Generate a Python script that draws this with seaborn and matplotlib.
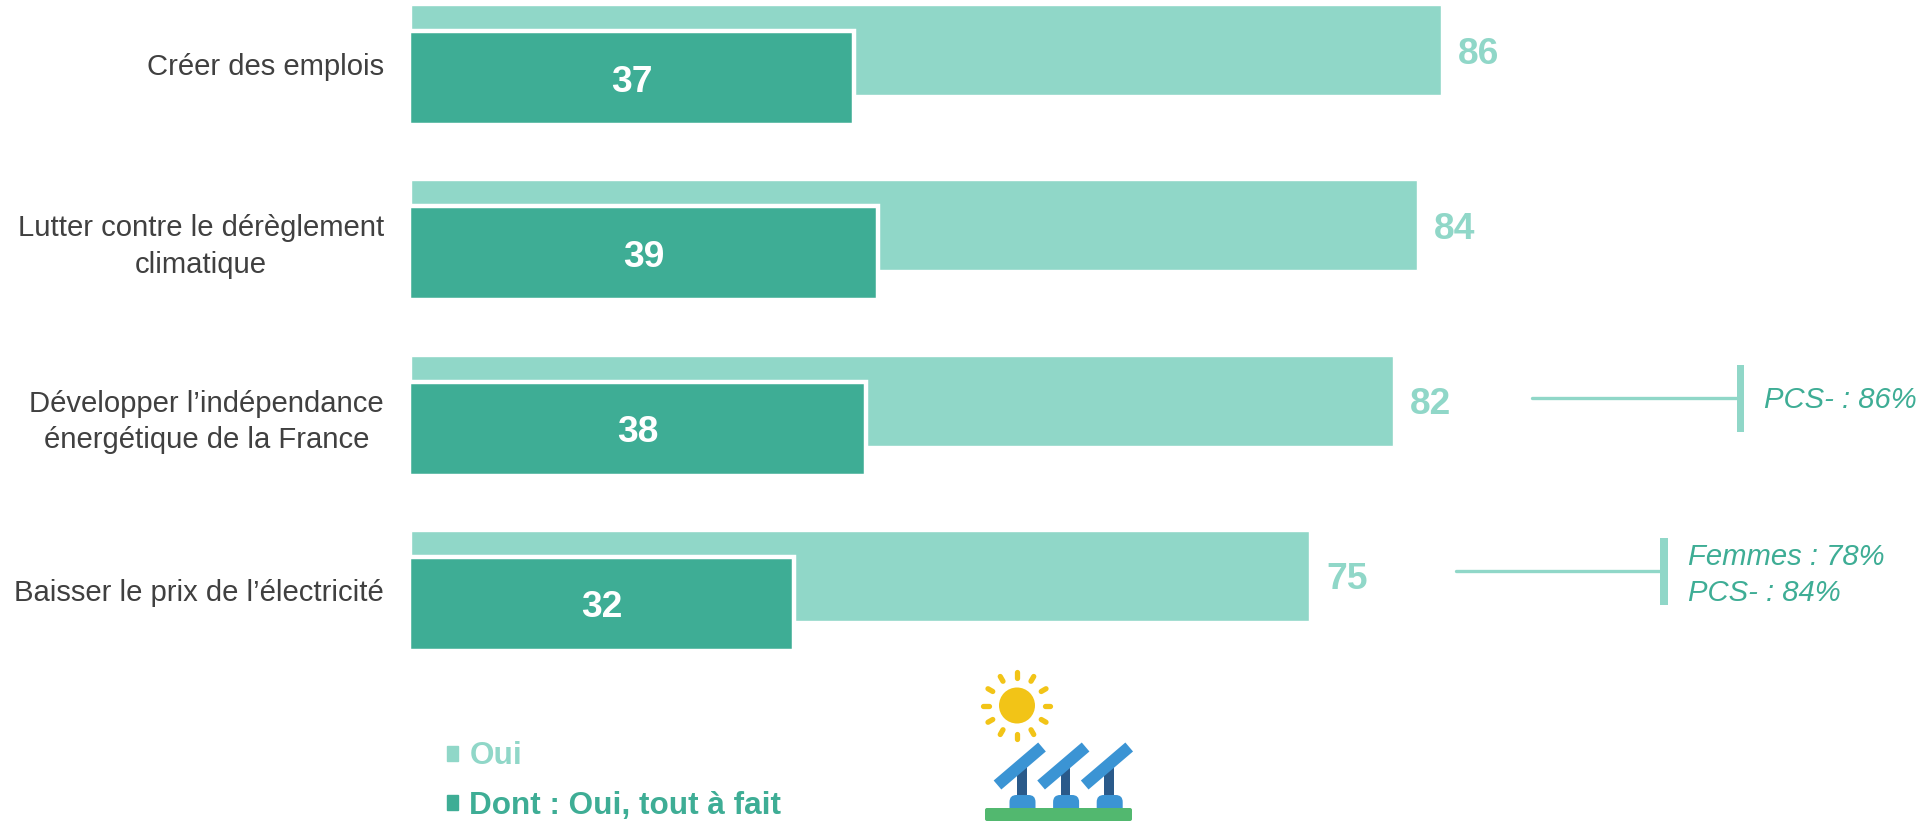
import numpy as np
import pandas as pd
import seaborn as sns
import matplotlib.pyplot as plt
from matplotlib.patches import Circle, FancyBboxPatch, Patch, Rectangle
from matplotlib.transforms import ScaledTranslation

categories = ['Créer des emplois',
              'Lutter contre le dérèglement\nclimatique',
              'Développer l’indépendance\nénergétique de la France',
              'Baisser le prix de l’électricité']
oui = [86, 84, 82, 75]
tout_a_fait = [37, 39, 38, 32]
legend_labels = ['Oui', 'Dont : Oui, tout à fait']
notes = ['PCS- : 86%', 'Femmes : 78%\nPCS- : 84%']

LIGHT = '#90D7C8'
DARK = '#3EAD95'
TEXT = '#404040'

sns.set_theme(style='white')
plt.rcParams['font.family'] = ['Liberation Sans', 'DejaVu Sans']

W, H = 1924, 822
fig = plt.figure(figsize=(W / 100, H / 100), dpi=100)
df = pd.DataFrame({'cat': categories, 'oui': oui, 'tout': tout_a_fait})

# pixel scales
px_unit = 11.98
x_zero = 410.6
pitch = 175.3
ax_left = 400


def make_axes(y_center):
    ax = fig.add_axes([ax_left / W, 0, 1 - ax_left / W, 1])
    ax.patch.set_alpha(0)
    return ax, ((ax_left - x_zero) / px_unit, (W - x_zero) / px_unit), (
        (H - y_center) / pitch, -y_center / pitch)


ax_light, xl, yl = make_axes(50)
sns.barplot(data=df, x='oui', y='cat', orient='h', color=LIGHT, saturation=1,
            width=90 / pitch, ax=ax_light)
ax_light.set_xlim(xl)
ax_light.set_ylim(yl)

ax_dark, xl, yl = make_axes(78)
sns.barplot(data=df, x='tout', y='cat', orient='h', color=DARK, saturation=1,
            width=94 / pitch, edgecolor='white', linewidth=3.2, ax=ax_dark)
ax_dark.set_xlim(xl)
ax_dark.set_ylim(yl)
# push the left white edge out so dark starts flush with the light bar
for p in ax_dark.containers[0]:
    p.set_x(-0.12)
    p.set_width(p.get_width() + 0.12)

for ax in (ax_light, ax_dark):
    ax.set_xlabel('')
    ax.set_ylabel('')
    ax.set_xticks([])
    sns.despine(ax=ax, left=True, bottom=True)

ax_dark.set_yticks([])
ax_light.tick_params(axis='y', length=0, pad=11.5, labelsize=21.1, labelcolor=TEXT)
shift = ScaledTranslation(0, -14 / 100, fig.dpi_scale_trans)
for lab in ax_light.get_yticklabels():
    lab.set_multialignment('center')
    lab.set_linespacing(1.38)
    lab.set_transform(lab.get_transform() + shift)

for i, v in enumerate(oui):
    ax_light.annotate(str(v), (v, i), xytext=(17, -4), textcoords='offset pixels',
                      color=LIGHT, fontsize=26.8, fontweight='bold',
                      ha='left', va='center')
for i, v in enumerate(tout_a_fait):
    ax_dark.annotate(str(v), (v / 2, i), xytext=(0, -4), textcoords='offset pixels',
                     color='white', fontsize=26.8, fontweight='bold',
                     ha='center', va='center')

# overlay in pixel coordinates for the side notes and the icon
ov = fig.add_axes([0, 0, 1, 1])
ov.set_xlim(0, W)
ov.set_ylim(H, 0)
ov.axis('off')
ov.patch.set_alpha(0)

ov.plot([1532, 1738], [398, 398], color=LIGHT, lw=2.4)
ov.add_patch(Rectangle((1737, 365), 7, 67, color=LIGHT, lw=0))
ov.text(1764, 400, notes[0], color=DARK, fontsize=21.1, style='italic', va='center')

ov.plot([1456, 1662], [571, 571], color=LIGHT, lw=2.4)
ov.add_patch(Rectangle((1660, 538), 8, 67, color=LIGHT, lw=0))
ov.text(1688, 575, notes[1], color=DARK, fontsize=21.1, style='italic', va='center',
        linespacing=1.35)

# legend
handles = [Patch(color=LIGHT), Patch(color=DARK)]
leg = fig.legend(handles, legend_labels, loc='lower left',
                 bbox_to_anchor=(447 / W, 1 / H), frameon=False,
                 prop={'size': 22.7, 'weight': 'bold', 'family': 'Liberation Sans'},
                 handlelength=0.35, handleheight=0.35, handletextpad=0.36,
                 labelspacing=0.62, borderpad=0, borderaxespad=0)
leg.get_texts()[0].set_color(LIGHT)
leg.get_texts()[1].set_color(DARK)

# solar panel icon
SUN = '#F2C417'
BLUE = '#3B94D4'
NAVY = '#2A5A8A'
GREEN = '#52B86F'
cx, cy = 1017, 705.5
ov.add_patch(Circle((cx, cy), 18, color=SUN, lw=0))
for a in np.deg2rad(np.arange(0, 360, 30)):
    ov.plot([cx + 28 * np.cos(a), cx + 33.5 * np.cos(a)],
            [cy + 28 * np.sin(a), cy + 33.5 * np.sin(a)],
            color=SUN, lw=3.8, solid_capstyle='round')
for dx in [0, 43.6, 87.2]:
    ov.add_patch(Rectangle((1017.2 + dx, 765), 9.7, 32, color=NAVY, lw=0))
    ov.plot([997.5 + dx, 1042 + dx], [785, 747], color=BLUE, lw=8.5,
            solid_capstyle='butt')
    ov.add_patch(FancyBboxPatch((1013.5 + dx, 799), 18, 12, color=BLUE, lw=0,
                                boxstyle='round,pad=4,rounding_size=7'))
ov.add_patch(FancyBboxPatch((986, 809), 145, 11, color=GREEN, lw=0,
                            boxstyle='round,pad=1,rounding_size=2'))

fig.savefig('out.png', dpi=100)
